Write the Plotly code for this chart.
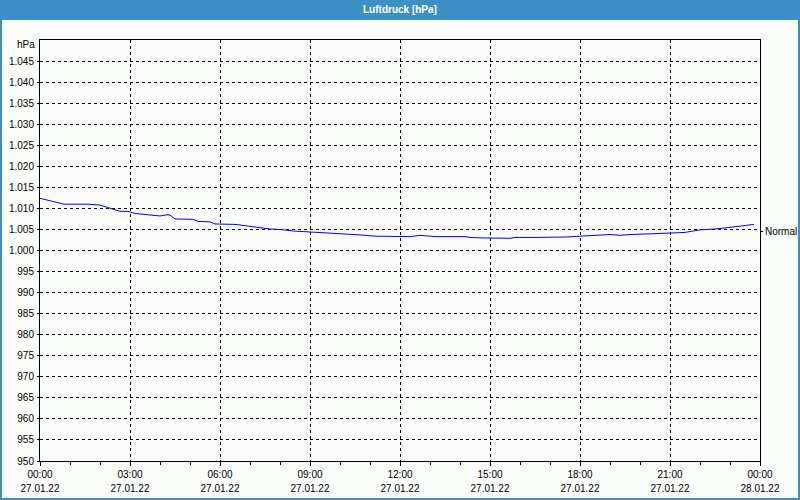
import plotly.graph_objects as go

times = ["00:00", "00:48", "01:36", "02:00", "02:40", "02:56", "03:10", "03:36", "04:00", "04:14",
         "04:20", "04:30", "05:06", "05:16", "05:40", "05:50", "06:30", "06:50", "07:10", "07:40",
         "08:00", "08:30", "09:00", "09:36", "10:06", "10:40", "11:10", "12:20", "12:40", "13:00",
         "13:10", "14:10", "14:20", "14:40", "15:40", "15:50", "16:20", "16:30", "17:30", "18:00",
         "18:30", "19:00", "19:20", "19:40", "20:30", "21:10", "21:30", "22:00", "22:30", "23:00",
         "23:30", "23:48"]
pressure = [1012.4, 1011.0, 1011.0, 1010.8, 1009.3, 1009.3, 1008.8, 1008.4, 1008.2, 1008.5,
            1008.4, 1007.5, 1007.4, 1006.9, 1006.8, 1006.3, 1006.2, 1005.9, 1005.6, 1005.1,
            1005.0, 1004.6, 1004.4, 1004.2, 1003.9, 1003.7, 1003.4, 1003.3, 1003.6, 1003.5,
            1003.3, 1003.3, 1003.1, 1003.0, 1002.9, 1003.1, 1003.0, 1003.1, 1003.2, 1003.4,
            1003.6, 1003.8, 1003.6, 1003.8, 1004.0, 1004.1, 1004.3, 1004.9, 1005.1, 1005.5,
            1005.9, 1006.2]
normal_value = 1004.5
y_ticks = list(range(950, 1050, 5))
y_tick_text = [f"{v // 1000}.{v % 1000:03d}" if v >= 1000 else str(v) for v in y_ticks]
x_ticks = ["2022-01-27 00:00", "2022-01-27 03:00", "2022-01-27 06:00", "2022-01-27 09:00",
           "2022-01-27 12:00", "2022-01-27 15:00", "2022-01-27 18:00", "2022-01-27 21:00",
           "2022-01-28 00:00"]
time_labels = ["00:00", "03:00", "06:00", "09:00", "12:00", "15:00", "18:00", "21:00", "00:00"]
date_labels = ["27.01.22", "27.01.22", "27.01.22", "27.01.22", "27.01.22", "27.01.22",
               "27.01.22", "27.01.22", "28.01.22"]
title_text = "Luftdruck [hPa]"
unit_text = "hPa"
normal_text = "Normal"

x_dt = ["2022-01-27 " + t for t in times]

FONT = "Liberation Sans"
W, H = 800, 500
L, R, T, B = 40, 40, 40, 39
pw, ph = W - L - R, H - T - B
X_RANGE = ["2022-01-27 00:00", "2022-01-28 00:00"]

def px(x):
    return (x - L) / pw

def py(y):
    return (H - B - y) / ph

fig = go.Figure()
fig.add_trace(go.Scatter(x=x_dt, y=pressure, mode="lines", line=dict(color="#0000ff", width=1),
                         hoverinfo="skip", showlegend=False))
# invisible trace bound to the secondary x axis (date labels)
fig.add_trace(go.Scatter(x=x_ticks, y=[None] * len(x_ticks), xaxis="x2", mode="lines",
                         hoverinfo="skip", showlegend=False))

grid = dict(showgrid=True, gridcolor="#000000", gridwidth=1, griddash="3px,3px")

fig.update_layout(
    width=W, height=H,
    margin=dict(l=L, r=R, t=T, b=B, pad=0),
    paper_bgcolor="#fbfdfb", plot_bgcolor="#fbfdfb",
    font=dict(family=FONT, size=10, color="#000000"),
    showlegend=False,
    xaxis=dict(
        type="date", range=X_RANGE, automargin=False,
        tickmode="array", tickvals=x_ticks, ticktext=time_labels,
        **grid,
        showline=True, linecolor="#000000", linewidth=1, mirror=True,
        ticks="outside", ticklen=4, tickcolor="#000000", ticklabelstandoff=0,
        minor=dict(dtick=3600000, ticks="outside", ticklen=3, tickcolor="#000000", showgrid=False),
        zeroline=False, tickfont=dict(size=10),
    ),
    xaxis2=dict(
        type="date", range=X_RANGE, automargin=False, overlaying="x", side="bottom", anchor="y",
        tickmode="array", tickvals=x_ticks, ticktext=date_labels,
        showgrid=False, showline=False, ticks="", ticklabelstandoff=20,
        zeroline=False, tickfont=dict(size=10),
    ),
    yaxis=dict(
        range=[950, 1050], automargin=False, tickmode="array", tickvals=y_ticks, ticktext=y_tick_text,
        **grid,
        showline=True, linecolor="#000000", linewidth=1, mirror=True,
        ticks="outside", ticklen=2, tickcolor="#000000", zeroline=False, tickfont=dict(size=10),
        ticklabelstandoff=1,
    ),
    shapes=[
        dict(type="rect", xref="paper", yref="paper", x0=px(0), x1=px(W), y0=py(20), y1=py(0),
             fillcolor="#3d8fc6", line=dict(width=0), layer="below"),
        dict(type="rect", xref="paper", yref="paper", x0=px(1), x1=px(W - 1), y0=py(H - 1), y1=py(1),
             fillcolor="rgba(0,0,0,0)", line=dict(color="#3d8fc6", width=2)),
        dict(type="line", xref="paper", yref="y", x0=1, x1=px(L + pw + 3), y0=normal_value, y1=normal_value,
             line=dict(color="#000000", width=1)),
    ],
    annotations=[
        dict(text="<b>" + title_text + "</b>", xref="paper", yref="paper", x=0.5, y=py(10),
             xanchor="center", yanchor="middle", showarrow=False,
             font=dict(color="#ffffff", size=10, family=FONT)),
        dict(text=unit_text, xref="paper", yref="paper", x=px(37), y=py(44),
             xanchor="right", yanchor="middle", showarrow=False, font=dict(size=10)),
        dict(text=normal_text, xref="paper", yref="y", x=px(L + pw + 3), y=normal_value,
             xanchor="left", yanchor="middle", showarrow=False, font=dict(size=10)),
    ],
)

fig.write_html("out.html")
